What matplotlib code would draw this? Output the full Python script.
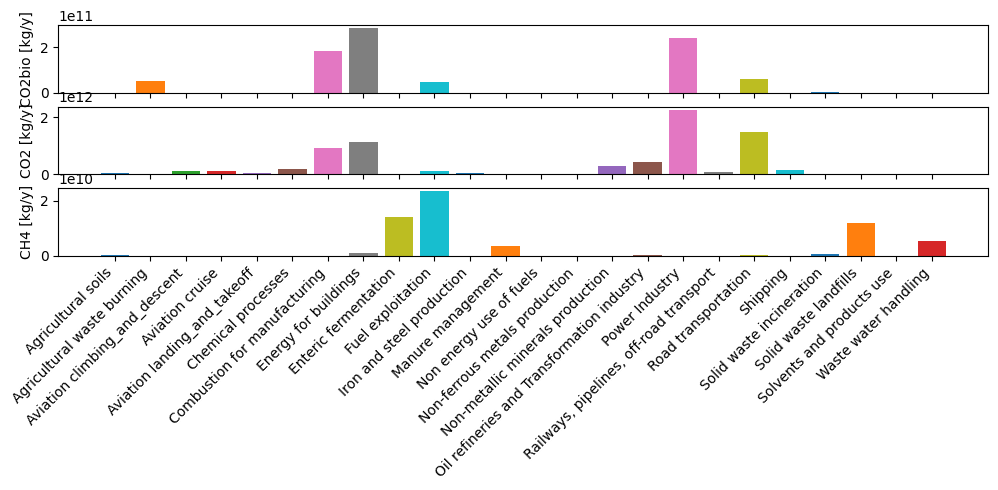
import matplotlib.pyplot as plt

# Sektory emisji
sektory = [
    "Agricultural soils",
    "Agricultural waste burning",
    "Aviation climbing_and_descent",
    "Aviation cruise",
    "Aviation landing_and_takeoff",
    "Chemical processes",
    "Combustion for manufacturing",
    "Energy for buildings",
    "Enteric fermentation",
    "Fuel exploitation",
    "Iron and steel production",
    "Manure management",
    "Non energy use of fuels",
    "Non-ferrous metals production",
    "Non-metallic minerals production",
    "Oil refineries and Transformation industry",
    "Power Industry",
    "Railways, pipelines, off-road transport",
    "Road transportation",
    "Shipping",
    "Solid waste incineration",
    "Solid waste landfills",
    "Solvents and products use",
    "Waste water handling",
]

# Emisje [kg/y]
co2bio = [0, 0.53e11, 0, 0, 0, 0, 1.83e11, 2.82e11, 0, 0.49e11, 0, 0,
          0, 0, 0, 0, 2.39e11, 0, 0.62e11, 0, 0.05e11, 0, 0, 0]
co2 = [0.045e12, 0, 0.115e12, 0.11e12, 0.045e12, 0.19e12, 0.92e12, 1.13e12,
       0, 0.11e12, 0.045e12, 0, 0, 0, 0.29e12, 0.43e12, 2.27e12, 0.08e12,
       1.48e12, 0.15e12, 0, 0, 0, 0]
ch4 = [0.04e10, 0, 0, 0, 0, 0, 0, 0.11e10, 1.43e10, 2.35e10, 0, 0.37e10,
       0, 0, 0, 0.04e10, 0, 0, 0.03e10, 0, 0.07e10, 1.21e10, 0, 0.55e10]

kolory = [f"C{i % 10}" for i in range(len(sektory))]

fig, axes = plt.subplots(3, 1, sharex=True, figsize=(9.98, 4.9), dpi=100)
fig.subplots_adjust(left=0.0584, right=0.9903, top=0.949, bottom=0.4776, hspace=0.2)

for ax, dane, etykieta in zip(axes, [co2bio, co2, ch4],
                              ["CO2bio [kg/y]", "CO2 [kg/y]", "CH4 [kg/y]"]):
    ax.bar(sektory, dane, color=kolory)
    ax.set_ylabel(etykieta)

axes[-1].tick_params(axis="x", labelrotation=45)
for lab in axes[-1].get_xticklabels():
    lab.set_horizontalalignment("right")

plt.savefig("out.png")
